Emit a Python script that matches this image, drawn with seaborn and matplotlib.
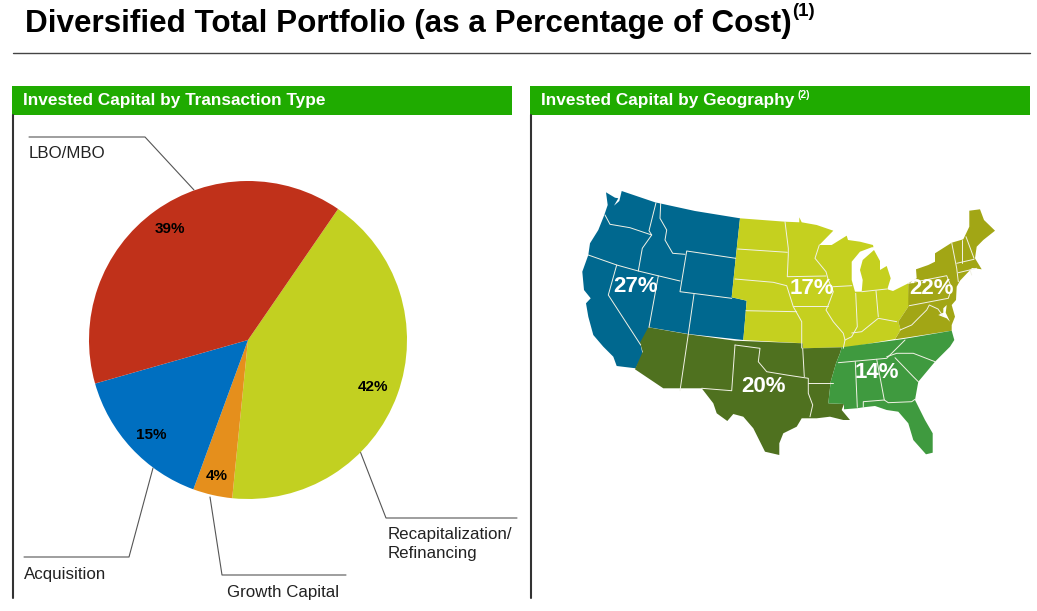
import matplotlib
matplotlib.use("Agg")
import matplotlib.pyplot as plt
import seaborn as sns

# Data (clockwise from the top right of the pie)
transaction_types = ["Recapitalization/\nRefinancing", "Growth Capital", "Acquisition", "LBO/MBO"]
transaction_values = [42, 4, 15, 39]
transaction_colors = ["#c2d021", "#e58f1c", "#006fc0", "#c0311a"]
pct_label_pos = [(373,387), (217,476), (151,435), (170,229)]

geo_labels = ["27%", "17%", "22%", "20%", "14%"]
geo_colors = ["#00688f", "#c5d01f", "#a2a615", "#4f711f", "#3f9a3f"]
geo_label_pos = [(636, 286), (812, 289), (932, 289), (764, 386), (877, 373)]

# Region outlines (pixels)
west = [(621.7,191),(655,202.3),(695,211),(740,218.3),(735.7,258.3),(731.7,297.3),(746.7,300.7),(743.3,340),
        (688.3,334),(649,327.3),(640.7,345),(642.7,355),(635.7,368.3),(616.7,366),(613.3,356.7),(603.3,346.7),
        (593.3,335),(588.3,316.7),(586,303.3),(590.7,298.3),(584,290),(582.3,271.7),(588.3,255),(590,243.3),
        (598.3,230),(604.3,215),(607.7,205),(606,192.3),(615,197.7),(618.3,198.3),(614,205.7),(619.3,201)]
midwest = [(740,218.3),(785,221.7),(799.3,222.3),(799.3,217.3),(801.7,222.3),(816.7,225),(833.3,230.7),(819.3,245),
           (831.7,245),(846.7,235.7),(848,240),(860,241.7),(873,245),(874,250),(880,261),(880,270),(886.7,266),
           (890.7,278.3),(887.3,289.3),(893,291),(908.3,283.3),(909.3,305),(908.3,306.7),(898.3,321.7),(900.7,330),
           (895,339),(843.3,348.3),(841.7,347.3),(802.7,348.3),(802.7,343.3),(743.3,340),(746.7,300.7),(731.7,297.3),
           (735.7,258.3)]
northeast = [(908.3,283.3),(916.7,278.3),(916,269.3),(928.3,265),(935,261.7),(935,253.3),(951.7,242.7),(963.3,239.3),
             (969.3,226.7),(969.3,210.7),(980,209.3),(984,220),(995,230.7),(983.3,240),(976.7,246.7),(975,258.3),
             (981.7,269.3),(972,268),(960,280.7),(956.7,286.7),(956,300),(951.7,305),(955,316.7),(951.7,325),
             (951.7,330.7),(895,339.3),(900.7,330),(898.3,321.7),(908.3,306.7)]
south_central = [(648.3,327.3),(688.3,334.3),(735,340.7),(802.7,343.3),(802.7,348.3),(841.7,347.3),(840,353.3),
                 (836,363.3),(830.7,381.7),(828.3,403.3),(844,404),(841.7,410),(850,420),(843.3,420),(830,416.7),
                 (816.7,418.3),(801.7,418.3),(796.7,426.7),(783.3,433.3),(779.3,443.3),(779.3,455),(765,451.7),
                 (760,441.7),(753.3,428.3),(743.3,416.7),(733.3,414),(727.3,421),(716.7,413.3),(713.3,403.3),
                 (701.7,388.3),(686.7,388.3),(663.3,388.3),(635,369.3),(638.3,361.7),(642.7,351.7),(640,342.7)]
southeast = [(841.7,347.3),(901.7,339.3),(951.7,330.7),(954.3,340),(950,346.7),(935,361.7),(918.3,381.7),(915,400),
             (925,420),(932.7,433.3),(932.7,452.7),(926,454.3),(913.3,440),(908.3,423.3),(898.3,411.7),(886.7,410),
             (875,406),(863.3,407.3),(856.7,408.3),(844,409.3),(844,404),(828.3,403.3),(830.7,381.7),(836,363.3),
             (840,353.3)]
regions = [west, midwest, northeast, south_central, southeast]

# State borders
borders = [
    [(605,215),(610,224.3),(630,227.7),(651.7,235)],
    [(656,202.7),(649,230.7),(651.7,235),(642.3,248.3),(638.3,271)],
    [(588.3,255),(616.7,265),(638.3,271),(680,281)],
    [(616.7,265),(608.3,295),(640.7,345)],
    [(658.3,276),(649,327.3)],
    [(660.7,203.3),(660,218.3),(666.7,230),(665,240),(672.7,253.3),(685,254.3)],
    [(735.7,258.3),(686.7,251),(680,291.7),(731.7,298.3)],
    [(694,294.3),(688.3,334)],
    [(737.7,249),(787.3,252.3)],
    [(735,279),(773.3,282.3),(786.7,285.7),(793.3,306.7),(801.7,321.7),(801.7,348)],
    [(746,310.7),(796.7,311.7)],
    [(785,221.7),(788.3,248.3),(788.3,255),(787.3,276.7),(826,276)],
    [(819.3,245),(815,258.3),(826,271.7),(828.3,280),(833.3,291.7),(828.3,305),(826,310),(833.3,321.7),(843.3,333.3),(845,340),(843.3,348.3)],
    [(793.3,306),(828.3,306)],
    [(833.3,286.7),(851.7,285.7)],
    [(855.7,293.3),(857.3,326.7),(851.7,336.7),(845,340)],
    [(861.7,291.7),(886.7,289)],
    [(876,290.7),(878.3,316.7)],
    [(851.7,333),(861.7,331.7),(878.3,318.3),(896.7,321.7)],
    [(908.3,283.3),(946.7,275.7),(951.7,288.3),(948.3,298.3),(909.3,305.7)],
    [(951.7,242.7),(956.7,268.3),(958.3,281.7)],
    [(961.7,240),(961.7,262.7)],
    [(966,236.7),(974,258.3)],
    [(956.7,263.3),(974,259.3)],
    [(958.3,272.7),(976.7,268.3)],
    [(970,270),(971.7,275)],
    [(900,330),(911.7,325),(918.3,318.3),(926.7,310),(929.3,305),(938,309),(943,316)],
    [(688.3,334.3),(680,390.7)],
    [(735,345),(731.7,390.7),(701.7,388.3)],
    [(735,345),(760,348.3),(758.3,361.7),(766.7,371.7),(786.7,375),(808.3,378.3),(808.3,393.3),(812.7,405),(810,416.7)],
    [(802.7,348.3),(804.3,376.7)],
    [(808.3,383.3),(833.3,383.3)],
    [(838.3,362.7),(886.7,358.3),(905,340)],
    [(886.7,356.7),(896.7,353.3),(913.3,353.3),(935,361.7)],
    [(895,357.7),(913.3,376.7),(918.3,381.7)],
    [(876.7,359.3),(884.3,400),(888.3,402.7),(911.7,401.7),(915,399.3)],
    [(863.3,407.3),(863.3,401.7),(884.3,400)],
    [(855.3,361.7),(857.3,407.3)],
]

# Lakes and bays on top of the land
waters = [
    [(877,247),(871.7,247.3),(860,251.7),(851.7,261.7),(851.7,280),(855,291.7),(861.7,291.7),(862.7,280),(860,270),(862.7,260),(874,250)],
    [(943.3,308.3),(946.7,305),(945.7,312.7),(950,321.7),(946.7,318.3),(938.3,315),(943.3,312.7)],
]

# Leader lines and labels, same order as the wedges
leaders = [[(360,451),(386,518),(517,518)],
           [(210,497),(222,575),(346,575)],
           [(153,468),(129,557),(24,557)],
           [(29,137),(145,137),(194,190)]]
leader_text_pos = [(388,544), (227,592), (24,575), (29,153)]

panel_titles = ["Invested Capital by Transaction Type", "Invested Capital by Geography"]
panel_left = [12, 530]

sns.set_theme(style="white")
plt.rcParams["font.family"] = ["Liberation Sans", "DejaVu Sans"]

W, H = 1037, 611
fig = plt.figure(figsize=(W / 100, H / 100), dpi=100)

# Full figure axes in pixels for the map and annotations
ax = fig.add_axes([0, 0, 1, 1])
ax.set_xlim(0, W)
ax.set_ylim(H, 0)
ax.axis("off")

ax.text(25, 24, "Diversified Total Portfolio (as a Percentage of Cost)", fontsize=22.6,
        fontweight="bold", color="black", va="center")
ax.text(792, 12, "(1)", fontsize=13.5, fontweight="bold", color="black", va="center")
ax.plot([13, 1030], [53, 53], color="#444444", lw=1)

for left, title in zip(panel_left, panel_titles):
    ax.fill_between([left, left + 500], 86, 115, color="#1fab00", lw=0)
    ax.plot([left + 1, left + 1], [115, 598], color="#333333", lw=1.5)
    ax.text(left + 11, 100.5, title, fontsize=12.4, fontweight="bold", color="white", va="center")
ax.text(798, 95, "(2)", fontsize=7.5, fontweight="bold", color="white", va="center")

for outline, color in zip(regions, geo_colors):
    ax.fill(*zip(*outline), color=color, lw=0)
for border in borders:
    ax.plot(*zip(*border), color="#f2f2e6", lw=0.7)
for water in waters:
    ax.fill(*zip(*water), color="white", lw=0)
for label, pos in zip(geo_labels, geo_label_pos):
    ax.text(pos[0], pos[1], label, fontsize=16, fontweight="bold", color="white", ha="center", va="center")

for line in leaders:
    ax.plot(*zip(*line), color="#555555", lw=0.8, zorder=5)
for label, pos in zip(transaction_types, leader_text_pos):
    ax.text(pos[0], pos[1], label, fontsize=12.2, color="#222222", va="center", linespacing=1.35)

# Pie, centred at (248, 340) with radius 159 px
side = 2 * 159 * 1.25
pie_ax = fig.add_axes([(248 - side / 2) / W, 1 - (340 + side / 2) / H, side / W, side / H])
pie_ax.patch.set_alpha(0)
_, _, pcts = pie_ax.pie(transaction_values, colors=transaction_colors, startangle=55.5, counterclock=False,
                        autopct=lambda p: f"{p:.0f}%", pctdistance=0.855, radius=1,
                        wedgeprops={"linewidth": 0})
for t, pos in zip(pcts, pct_label_pos):
    t.set_position(((pos[0] - 248) / 159, (340 - pos[1]) / 159))
    t.set_fontsize(11)
    t.set_fontweight("bold")
    t.set_color("black")

fig.savefig("out.png", dpi=100)
